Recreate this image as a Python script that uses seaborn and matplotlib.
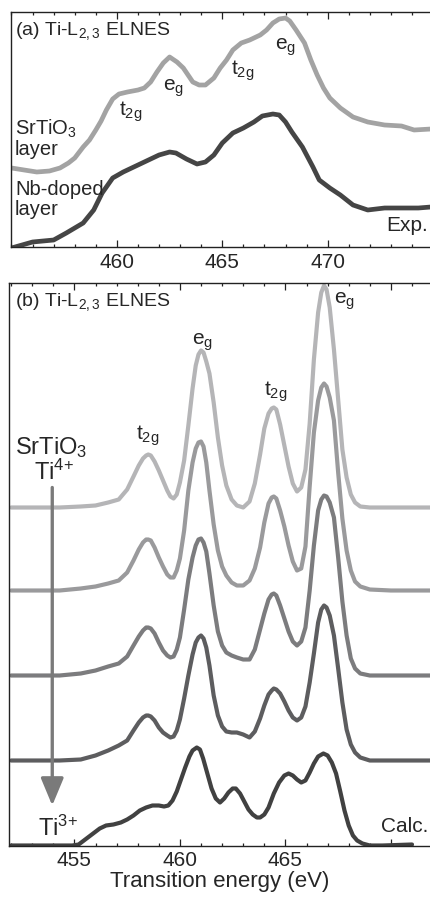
import numpy as np
import pandas as pd
import matplotlib
matplotlib.use('Agg')
import matplotlib.pyplot as plt
from matplotlib.ticker import MultipleLocator, FixedLocator
import seaborn as sns

# (a) experimental Ti-L2,3 ELNES (arb. units)
exp_energy_sto = [455.0, 455.6, 456.2, 456.8, 457.3, 457.7, 458.0, 458.4, 458.7, 459.0,
                  459.25, 459.5, 459.8, 460.1, 460.5, 461.0, 461.3, 461.6, 461.9, 462.2,
                  462.5, 462.85, 463.15, 463.6, 463.9, 464.2, 464.6, 464.9, 465.2, 465.5,
                  465.9, 466.3, 466.8, 467.1, 467.4, 467.7, 468.0, 468.2, 468.5, 468.9,
                  469.2, 469.5, 469.8, 470.1, 470.6, 471.2, 471.9, 472.7, 473.5, 474.1,
                  474.9]
exp_sto = [79, 77, 75, 76, 79, 84, 89, 100, 107, 117,
           126, 137, 148, 153, 155, 157, 159, 165, 175, 184,
           190, 185, 179, 165, 162, 162, 169, 179, 187, 197,
           204, 207, 212, 217, 224, 228, 229, 226, 217, 204,
           187, 172, 159, 149, 139, 130, 125, 122, 121, 117,
           118]

exp_energy_nb = [455.0, 455.5, 456.0, 457.0, 457.6, 458.4, 458.9, 459.3, 459.8, 460.3,
                 460.8, 461.4, 462.0, 462.5, 462.8, 463.3, 463.8, 464.2, 464.6, 465.0,
                 465.5, 466.0, 466.5, 466.9, 467.4, 467.7, 468.0, 468.3, 468.8, 469.3,
                 469.6, 470.1, 470.6, 471.2, 471.9, 472.7, 473.5, 474.3, 474.9]
exp_nb = [-1, 2, 5, 7, 14, 24, 37, 54, 69, 75,
          80, 86, 92, 95, 94, 88, 83, 85, 92, 104,
          114, 119, 125, 131, 133, 132, 125, 115, 100, 80,
          67, 59, 52, 42, 37, 39, 39, 39, 40]

# (b) calculated spectra, Ti4+ (top) -> Ti3+ (bottom)
calc_energy = [452.0, 454.3, 455.3, 456.0, 456.6, 457.1, 457.5, 457.8, 458.05, 458.25,
               458.4, 458.5, 458.62, 458.8, 459.0, 459.2, 459.4, 459.55, 459.7, 459.85,
               460.0, 460.2, 460.4, 460.6, 460.75, 460.88, 461.0, 461.12, 461.25, 461.4,
               461.6, 461.8, 462.0, 462.2, 462.45, 462.7, 463.0, 463.3, 463.55, 463.8,
               464.0, 464.2, 464.35, 464.45, 464.57, 464.75, 464.95, 465.15, 465.35, 465.55,
               465.75, 465.95, 466.15, 466.35, 466.55, 466.7, 466.83, 466.95, 467.1, 467.3,
               467.5, 467.7, 467.9, 468.1, 468.3, 468.55, 469.0, 470.0, 472.0]
calc_1 = [0, 0, 1, 2, 5, 8, 18, 31, 42, 49,
          52, 53, 52, 46, 37, 27, 17, 11, 9, 13,
          25, 47, 82, 119, 142, 153, 157, 155, 146, 134,
          105, 70, 42, 22, 8, 2, 0, 6, 24, 53,
          79, 94, 99, 100, 98, 83, 62, 41, 24, 16,
          20, 38, 84, 148, 195, 215, 222, 218, 200, 158,
          108, 58, 30, 13, 5, 1, 0, 0, 0]
calc_2 = [0, 0, 2, 4, 7, 10, 18, 30, 41, 48,
          51, 51, 50, 43, 33, 24, 16, 13, 13, 20,
          32, 60, 100, 128, 142, 148, 149, 144, 128, 100,
          66, 40, 24, 15, 8, 5, 5, 10, 22, 43,
          68, 87, 93, 94, 92, 80, 64, 45, 29, 20,
          22, 44, 104, 158, 190, 203, 207, 204, 193, 170,
          118, 72, 40, 20, 9, 4, 1, 0, 0]
calc_3 = [0, 0, 2, 5, 9, 12, 19, 30, 39, 45,
          48, 48, 47, 42, 33, 25, 20, 18, 19, 26,
          38, 66, 96, 118, 130, 136, 137, 133, 124, 102,
          70, 44, 30, 23, 20, 18, 16, 16, 26, 46,
          62, 76, 81, 82, 80, 70, 57, 44, 34, 30,
          34, 48, 85, 130, 165, 176, 180, 179, 173, 158,
          118, 74, 40, 17, 7, 2, 0, 0, 0]
calc_4 = [0, 0, 1, 5, 10, 15, 20, 30, 38, 43,
          45, 45, 44, 40, 33, 28, 25, 23, 24, 30,
          41, 62, 85, 106, 118, 123, 125, 122, 113, 95,
          65, 45, 34, 29, 28, 28, 26, 23, 29, 42,
          55, 66, 70, 72, 71, 67, 59, 50, 43, 40,
          43, 54, 78, 107, 138, 151, 155, 153, 145, 125,
          92, 58, 31, 16, 8, 3, 0, 0, 0]

calc_energy_ti3 = [452.0, 454.3, 454.9, 455.2, 455.45, 455.7, 455.95, 456.2, 456.5, 456.85,
                   457.2, 457.5, 457.8, 458.1, 458.4, 458.7, 459.0, 459.25, 459.45, 459.65,
                   459.85, 460.05, 460.25, 460.45, 460.6, 460.8, 460.95, 461.1, 461.3, 461.5,
                   461.7, 461.9, 462.1, 462.3, 462.5, 462.65, 462.85, 463.05, 463.25, 463.45,
                   463.65, 463.8, 464.0, 464.2, 464.45, 464.7, 464.95, 465.15, 465.35, 465.55,
                   465.75, 465.95, 466.15, 466.35, 466.55, 466.8, 467.0, 467.2, 467.4, 467.6,
                   467.8, 468.0, 468.2, 468.4, 468.65, 469.0, 469.6, 470.3, 471.0]
calc_ti3 = [0, 0, 0, 1, 5, 9, 13, 17, 20, 21,
            23, 26, 30, 35, 38, 40, 40, 39, 40, 45,
            54, 66, 78, 89, 95, 98, 96, 87, 72, 57,
            47, 43, 47, 53, 57, 57, 52, 44, 36, 31,
            28, 28, 31, 38, 52, 63, 70, 72, 70, 66,
            63, 65, 73, 82, 89, 92, 90, 83, 72, 54,
            35, 20, 10, 5, 2, 0, 0, 0.5, 1]

calc_offsets = [338, 255, 170, 85, 0]

top_ticks = [460, 465, 470]
bottom_ticks = [455, 460, 465, 470]
bottom_tick_labels = ['455', '460', '465', '']

exp_colors = ['#a3a3a3', '#454545']
calc_colors = ['#b5b5b7', '#9a9a9c', '#7c7c7e', '#5d5d5f', '#414141']

sns.set_style('white')
plt.rcParams['font.family'] = ['Liberation Sans', 'DejaVu Sans']
plt.rcParams['mathtext.fontset'] = 'custom'
plt.rcParams['mathtext.rm'] = 'Liberation Sans'
plt.rcParams['mathtext.it'] = 'Liberation Sans:italic'
plt.rcParams['mathtext.bf'] = 'Liberation Sans:bold'

W, H = 431, 899
fig = plt.figure(figsize=(W / 100, H / 100), dpi=100)


def fxy(px, py):
    return px / W, 1 - py / H


ax_a = fig.add_axes([11.5 / W, 1 - 247 / H, (W - 11.5) / W, 235 / H])
ax_b = fig.add_axes([9 / W, 1 - 845.5 / H, (W - 9) / W, 562.5 / H])


def style_axis(ax):
    for side in ['left', 'top', 'bottom']:
        ax.spines[side].set_color('#222222')
        ax.spines[side].set_linewidth(1.0)
    ax.spines['right'].set_visible(False)
    ax.set_yticks([])
    ax.xaxis.set_minor_locator(MultipleLocator(1))
    ax.tick_params(which='both', direction='in', top=True, bottom=True,
                   left=False, right=False, color='#222222', width=0.9)
    ax.tick_params(which='major', length=5, labelsize=15, pad=4)
    ax.tick_params(which='minor', length=2.5)


# panel (a)
exp_df = pd.concat([
    pd.DataFrame({'energy': exp_energy_sto, 'intensity': exp_sto, 'sample': 'SrTiO3'}),
    pd.DataFrame({'energy': exp_energy_nb, 'intensity': exp_nb, 'sample': 'Nb-doped'}),
])
for name, col in zip(['SrTiO3', 'Nb-doped'], exp_colors):
    d = exp_df[exp_df['sample'] == name]
    sns.lineplot(data=d, x='energy', y='intensity', ax=ax_a, color=col, lw=3.4,
                 estimator=None, sort=False, legend=False, solid_joinstyle='round')
ax_a.set_xlim(455, 474.9)
ax_a.set_ylim(0, 235)
style_axis(ax_a)
ax_a.xaxis.set_major_locator(FixedLocator(top_ticks))
ax_a.set_xlabel('')
ax_a.set_ylabel('')

# panel (b)
curves = [calc_1, calc_2, calc_3, calc_4]
for vals, off, col in zip(curves, calc_offsets[:4], calc_colors[:4]):
    sns.lineplot(x=calc_energy, y=np.array(vals) + off, ax=ax_b, color=col, lw=3.0,
                 estimator=None, sort=False, legend=False, solid_joinstyle='round')
sns.lineplot(x=calc_energy_ti3, y=np.array(calc_ti3) + calc_offsets[4], ax=ax_b,
             color=calc_colors[4], lw=3.0, estimator=None, sort=False, legend=False,
             solid_joinstyle='round')
ax_b.set_xlim(451.9, 471.9)
ax_b.set_ylim(0, 562.5)
style_axis(ax_b)
ax_b.xaxis.set_major_locator(FixedLocator(bottom_ticks))
ax_b.set_xticklabels(bottom_tick_labels)
ax_b.set_ylabel('')
ax_b.set_xlabel('Transition energy (eV)', fontsize=16, labelpad=1)

# arrow Ti4+ -> Ti3+
ax_b.annotate('', xy=(453.95, 40), xytext=(453.95, 358),
              arrowprops=dict(arrowstyle='-|>,head_length=1.2,head_width=0.5',
                              mutation_scale=14, color='#7a7a7a', lw=2.4,
                              shrinkA=0, shrinkB=0))

t2g = '$\\mathrm{t}_\\mathrm{2g}$'
eg = '$\\mathrm{e}_\\mathrm{g}$'

# labels panel (a)
fig.text(*fxy(15, 31), '(a) Ti-$\\mathrm{L}_\\mathrm{2,3}$ ELNES', fontsize=14,
         ha='left', va='center')
fig.text(*fxy(131, 112), t2g, fontsize=15, ha='center', va='center')
fig.text(*fxy(174, 88), eg, fontsize=15, ha='center', va='center')
fig.text(*fxy(243, 71), t2g, fontsize=15, ha='center', va='center')
fig.text(*fxy(286, 47), eg, fontsize=15, ha='center', va='center')
fig.text(*fxy(15, 118), '$\\mathrm{SrTiO}_\\mathrm{3}$\nlayer', fontsize=14.5,
         ha='left', va='top', linespacing=1.0)
fig.text(*fxy(15, 180), 'Nb-doped\nlayer', fontsize=14.5, ha='left', va='top',
         linespacing=1.05)
fig.text(*fxy(428, 226), 'Exp.', fontsize=15, ha='right', va='center')

# labels panel (b)
fig.text(*fxy(15, 302), '(b) Ti-$\\mathrm{L}_\\mathrm{2,3}$ ELNES', fontsize=14,
         ha='left', va='center')
fig.text(*fxy(148, 436), t2g, fontsize=15, ha='center', va='center')
fig.text(*fxy(203, 342), eg, fontsize=15, ha='center', va='center')
fig.text(*fxy(276, 392), t2g, fontsize=15, ha='center', va='center')
fig.text(*fxy(345, 301), eg, fontsize=15, ha='center', va='center')
fig.text(*fxy(51, 448), '$\\mathrm{SrTiO}_\\mathrm{3}$', fontsize=17, ha='center', va='center')
fig.text(*fxy(54, 472), '$\\mathrm{Ti}^{4{+}}$', fontsize=17, ha='center', va='center')
fig.text(*fxy(58, 828), '$\\mathrm{Ti}^{3{+}}$', fontsize=17, ha='center', va='center')
fig.text(*fxy(428, 826), 'Calc.', fontsize=15, ha='right', va='center')

fig.savefig('out.png', dpi=100)
